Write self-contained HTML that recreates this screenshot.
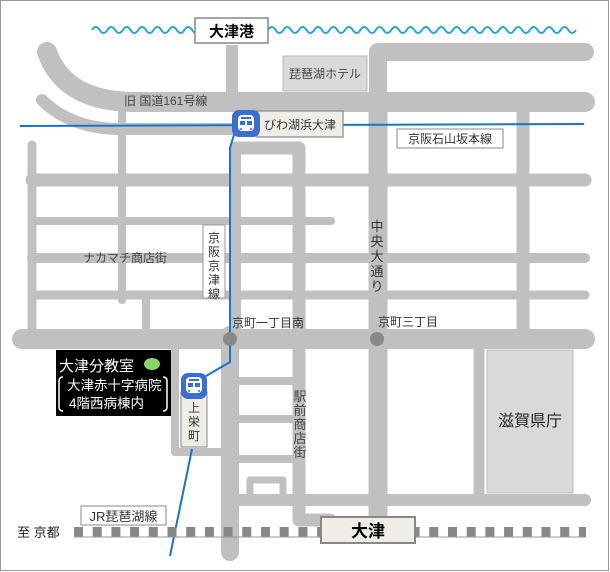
<!DOCTYPE html>
<html><head><meta charset="utf-8"><style>
html,body{margin:0;padding:0;background:#fff}
svg{display:block}
text{font-family:"Liberation Sans","Noto Sans CJK JP",sans-serif}
</style></head><body>
<svg width="610" height="572" viewBox="0 0 610 572" xmlns="http://www.w3.org/2000/svg">
<rect x="0.5" y="0.5" width="608" height="570" fill="#fff" stroke="#999" stroke-width="1"/>
<!-- wave -->
<path id="w" fill="none" stroke="#29a3dc" stroke-width="2" d="M92,30 q3.85,-6 7.7,0 t7.7,0 t7.7,0 t7.7,0 t7.7,0 t7.7,0 t7.7,0 t7.7,0 t7.7,0 t7.7,0 t7.7,0 t7.7,0 t7.7,0 t7.7,0 M268,30 q3.85,-6 7.7,0 t7.7,0 t7.7,0 t7.7,0 t7.7,0 t7.7,0 t7.7,0 t7.7,0 t7.7,0 t7.7,0 t7.7,0 t7.7,0 t7.7,0 t7.7,0 t7.7,0 t7.7,0 t7.7,0 t7.7,0 t7.7,0 t7.7,0 t7.7,0 t7.7,0 t7.7,0 t7.7,0 t7.7,0 t7.7,0 t7.7,0 t7.7,0 t7.7,0 t7.7,0 t7.7,0 t7.7,0 t7.7,0 t7.7,0 t7.7,0 t7.7,0 t7.7,0 t7.7,0 t7.7,0 t7.7,0"/>
<g stroke="#c0c0c0" fill="none" stroke-linecap="round" stroke-linejoin="round">
<path d="M47,52 C60,88 92,102 135,102 L585,102" stroke-width="20"/>
<path d="M42,100 C62,120 90,129 120,129 L235,129" stroke-width="12"/>
<path d="M232,45 L232,95" stroke-width="12" stroke-linecap="butt"/>
<path d="M378,112 L378,52 L585,52" stroke-width="18"/>
<path d="M378,100 L378,520" stroke-width="19"/>
<path d="M122,110 L122,300" stroke-width="8"/>
<path d="M523,110 L523,335" stroke-width="13"/>
<path d="M32,145 L32,335" stroke-width="9"/>
<path d="M32,180 L585,180" stroke-width="13"/>
<path d="M32,221 L331,221" stroke-width="8"/>
<path d="M32,258 L585,258" stroke-width="10"/>
<path d="M32,295 L585,295" stroke-width="9"/>
<path d="M146,295 L146,338" stroke-width="8"/>
<path d="M236,148 L299,148 L299,520 L330,520" stroke-width="13"/>
<path d="M236,148 L236,335" stroke-width="10"/>
<path d="M230,335 L230,552" stroke-width="18"/>
<path d="M22,339 L585,339" stroke-width="20"/>
<path d="M175,345 L175,452 L225,452" stroke-width="8"/>
<path d="M238,381 L300,381 M238,419 L300,419 M238,459 L300,459" stroke-width="8"/>
<path d="M250,494 L250,480 L283,480 L283,494" stroke-width="7"/>
<path d="M479,345 L479,500" stroke-width="11"/>
<path d="M238,500 L585,500" stroke-width="12"/>
</g>
<!-- blue lines -->
<g stroke="#1a75c9" fill="none" stroke-width="2">
<line x1="20" y1="126" x2="584" y2="124"/>
<path d="M236,128 L230,148 L230,362 L206,376"/>
<path d="M192,449 L170,556"/>
</g>
<!-- dots -->
<circle cx="230" cy="339" r="7" fill="#888"/>
<circle cx="377" cy="339" r="7" fill="#888"/>
<!-- boxes -->
<rect x="195" y="18" width="73" height="25" fill="#fff" stroke="#888" stroke-width="1.5"/>
<text x="231.5" y="36.5" font-size="15" font-weight="bold" text-anchor="middle" fill="#000">大津港</text>
<rect x="283" y="56" width="84" height="35" fill="#d9d9d9" stroke="#bbb"/>
<text x="325" y="78" font-size="12" text-anchor="middle" fill="#444">琵琶湖ホテル</text>
<rect x="257" y="111" width="86" height="26" fill="#efede5" stroke="#888" stroke-width="1.2"/>
<text x="300" y="129" font-size="12" text-anchor="middle" fill="#333">びわ湖浜大津</text>
<rect x="232" y="110" width="28" height="27" rx="7" fill="#3a6fd1"/>
<g fill="#fff"><rect x="238" y="115" width="16" height="16" rx="4"/></g>
<g fill="#3a6fd1"><rect x="241" y="117" width="10" height="2"/><rect x="240" y="121" width="5" height="4"/><rect x="247" y="121" width="5" height="4"/><circle cx="241" cy="129" r="1"/><circle cx="251" cy="129" r="1"/></g>
<rect x="397" y="129" width="106" height="19" fill="#fff" stroke="#888"/>
<text x="450" y="143" font-size="12" text-anchor="middle" fill="#333">京阪石山坂本線</text>
<text x="124" y="105" font-size="12" fill="#444">旧 国道161号線</text>
<text x="83" y="262" font-size="12" fill="#444">ナカマチ商店街</text>
<rect x="203" y="225" width="22" height="73" fill="#fff" stroke="#999"/>
<g font-size="12" fill="#333" text-anchor="middle"><text x="214" y="242">京</text><text x="214" y="256">阪</text><text x="214" y="270">京</text><text x="214" y="284">津</text><text x="214" y="298">線</text></g>
<g font-size="13" fill="#333" text-anchor="middle"><text x="377" y="231">中</text><text x="377" y="246">央</text><text x="377" y="261">大</text><text x="377" y="276">通</text><text x="377" y="291">り</text></g>
<text x="232" y="327" font-size="12" fill="#333">京町一丁目南</text>
<text x="378" y="326" font-size="12" fill="#333">京町三丁目</text>
<!-- black box -->
<rect x="56" y="350" width="115" height="66" fill="#000"/>
<text x="59" y="371" font-size="15" fill="#fff">大津分教室</text>
<ellipse cx="152" cy="364" rx="8" ry="6" fill="#8ed36a"/>
<text x="67" y="390" font-size="13.5" fill="#fff">大津赤十字病院</text>
<text x="69" y="408" font-size="13.5" fill="#fff">4階西病棟内</text>
<path d="M63,377 Q59,377 59,381 L59,407 Q59,411 63,411" stroke="#fff" fill="none" stroke-width="1.5"/>
<path d="M163,377 Q167,377 167,381 L167,407 Q167,411 163,411" stroke="#fff" fill="none" stroke-width="1.5"/>
<!-- 上栄町 -->
<rect x="181" y="392" width="26" height="55" fill="#efede5" stroke="#888"/>
<g font-size="12" fill="#333" text-anchor="middle"><text x="194" y="412">上</text><text x="194" y="426">栄</text><text x="194" y="440">町</text></g>
<rect x="181" y="373" width="26" height="26" rx="7" fill="#3a6fd1"/>
<rect x="186" y="377" width="16" height="16" rx="4" fill="#fff"/>
<g fill="#3a6fd1"><rect x="189" y="379" width="10" height="2"/><rect x="188" y="383" width="5" height="4"/><rect x="195" y="383" width="5" height="4"/><circle cx="189" cy="391" r="1"/><circle cx="199" cy="391" r="1"/></g>
<g font-size="13" fill="#444" text-anchor="middle"><text x="300" y="401">駅</text><text x="300" y="415">前</text><text x="300" y="429">商</text><text x="300" y="443">店</text><text x="300" y="457">街</text></g>
<rect x="487" y="350" width="86" height="143" fill="#d9d9d9" stroke="#c0c0c0"/>
<text x="530" y="426" font-size="16" text-anchor="middle" fill="#222">滋賀県庁</text>
<!-- JR -->
<rect x="81" y="506" width="85" height="19" fill="#fff" stroke="#888"/>
<text x="123.5" y="521" font-size="13" text-anchor="middle" fill="#333">JR琵琶湖線</text>
<text x="17" y="537" font-size="13" fill="#222">至 京都</text>
<line x1="74" y1="532" x2="586" y2="532" stroke="#888" stroke-width="10" stroke-dasharray="9 9.7"/>
<line x1="74" y1="537" x2="586" y2="537" stroke="#999" stroke-width="1"/>
<rect x="321" y="517" width="94" height="26" fill="#efede5" stroke="#888" stroke-width="2"/>
<text x="368" y="537" font-size="17" font-weight="bold" text-anchor="middle" fill="#000">大津</text>
</svg>
</body></html>
